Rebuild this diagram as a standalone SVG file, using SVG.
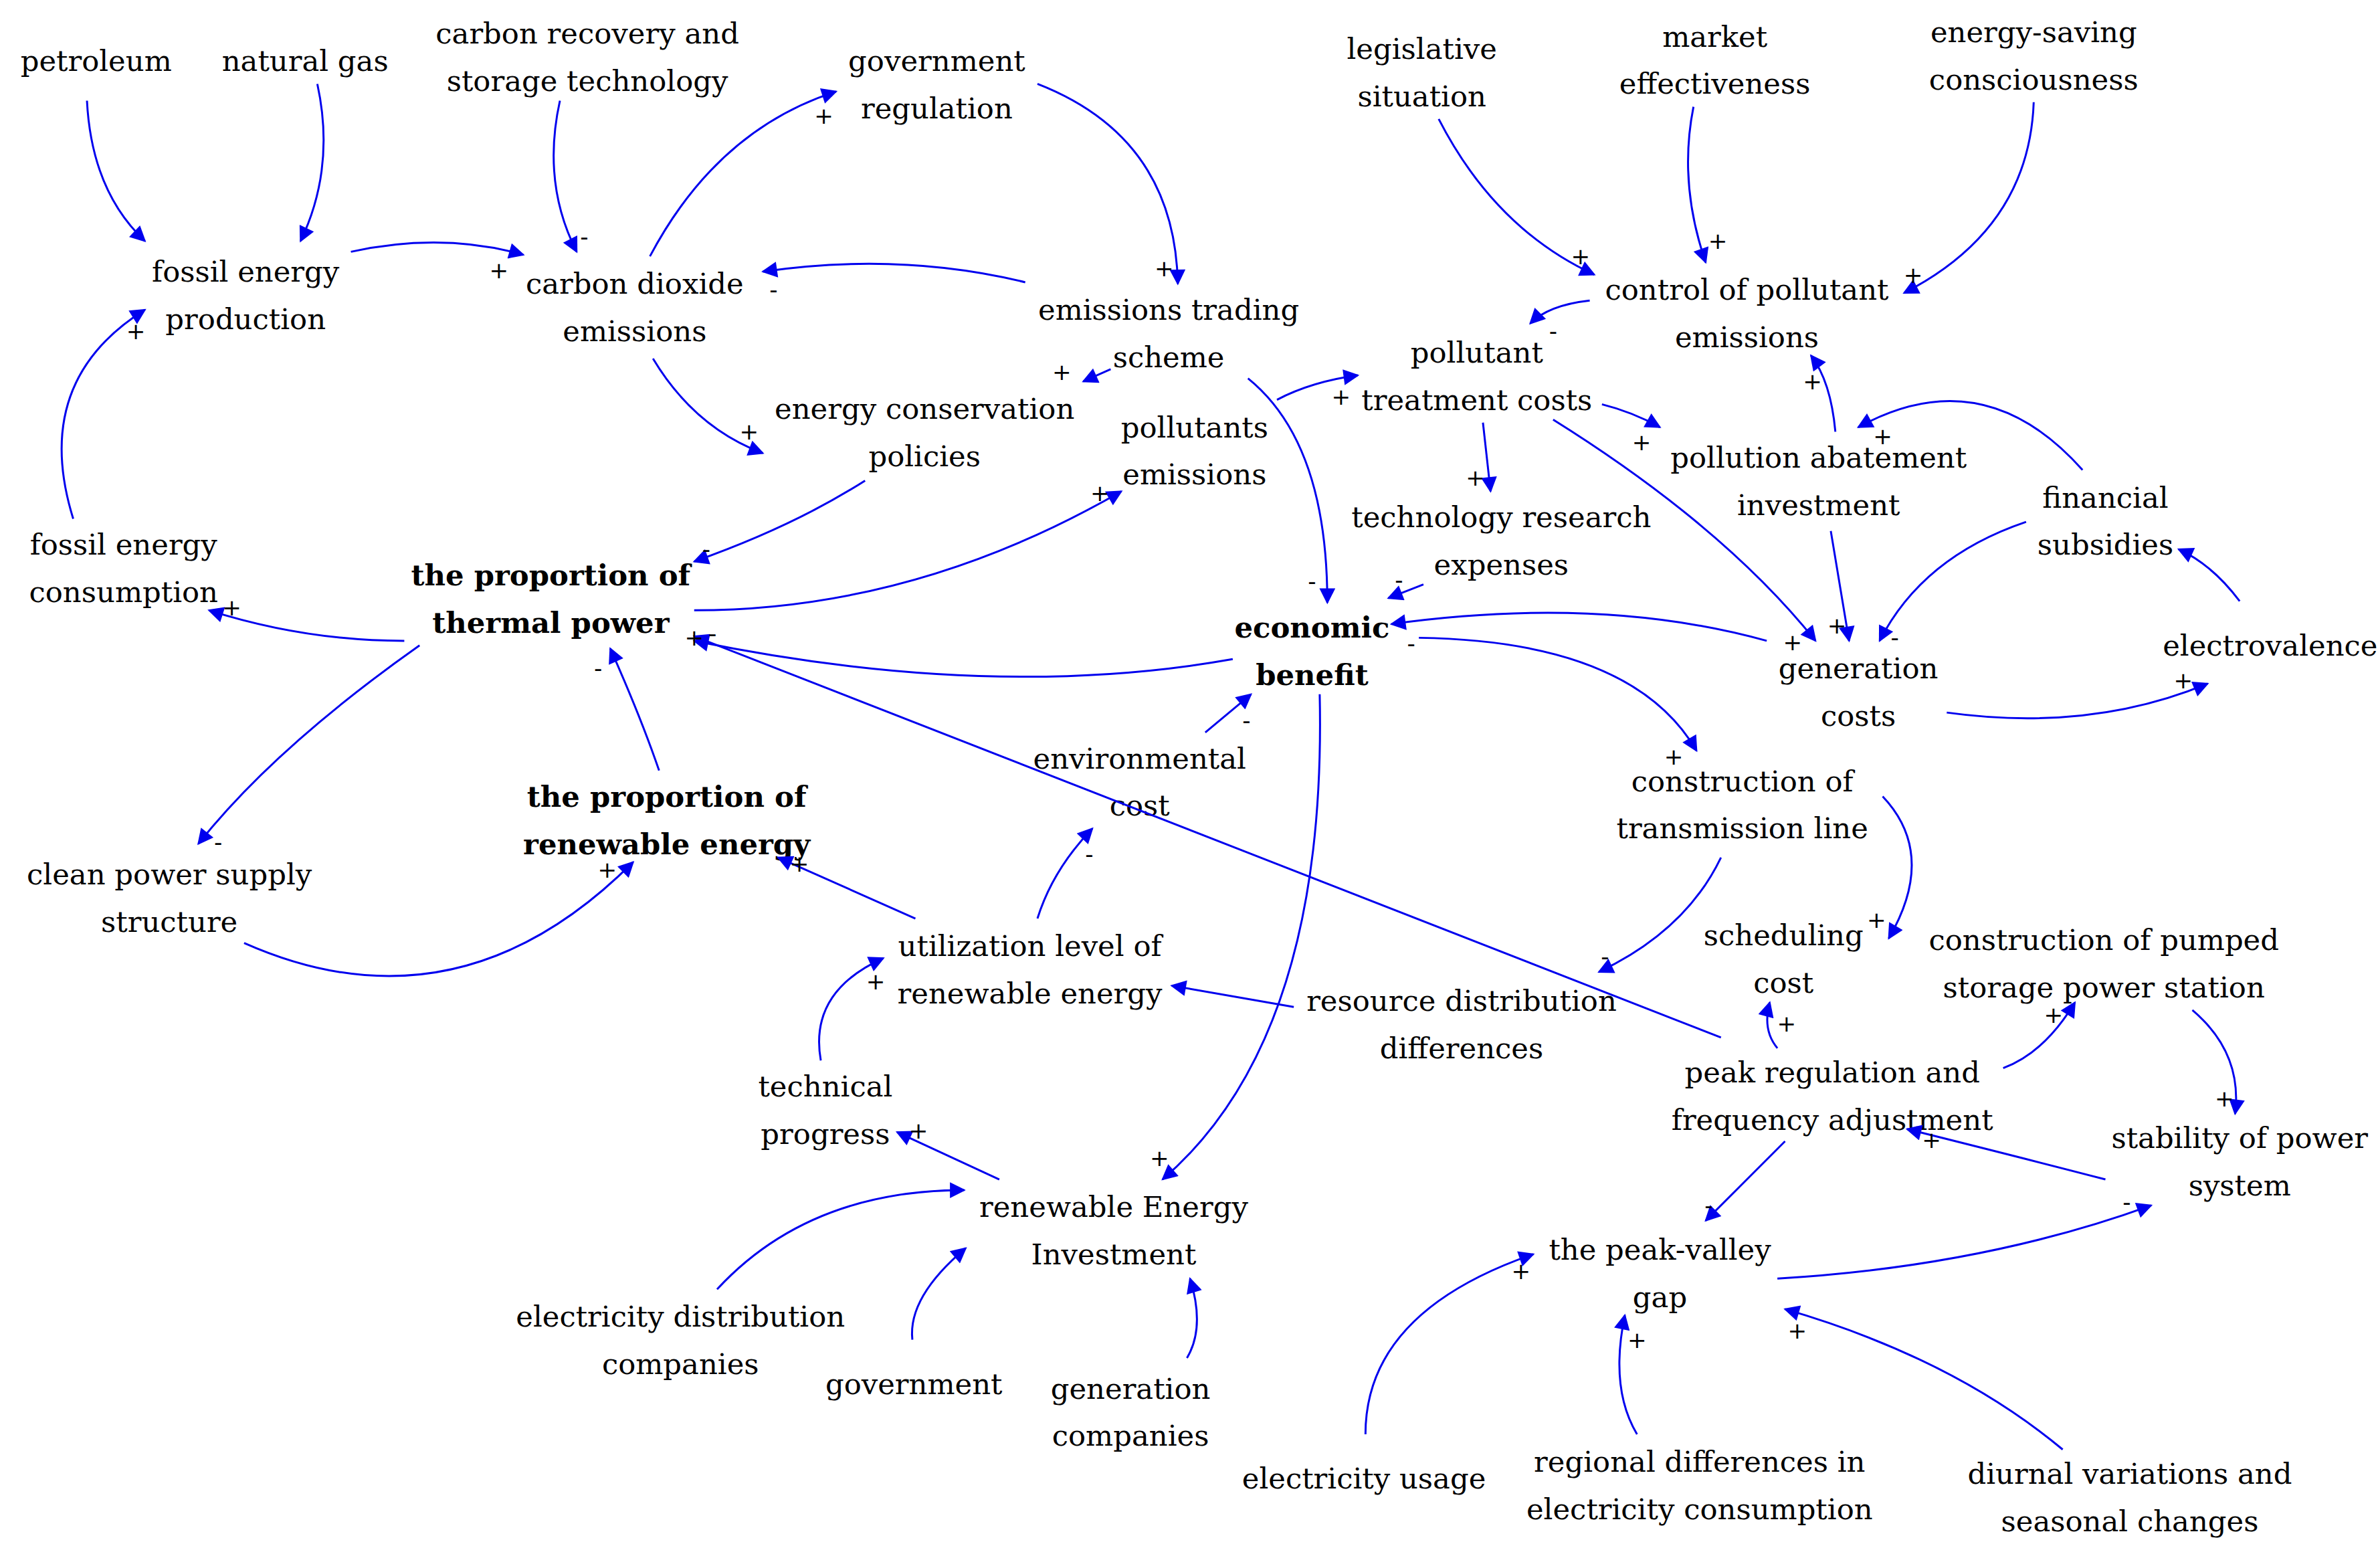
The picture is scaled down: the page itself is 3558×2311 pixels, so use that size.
<svg xmlns="http://www.w3.org/2000/svg" width="3558" height="2311" viewBox="0 0 3558 2311">
<style>
text{font-family:"DejaVu Serif","Liberation Serif",serif;font-size:19px;fill:#000;text-anchor:middle;dominant-baseline:central}
.b{font-weight:bold}
.s{font-family:"DejaVu Sans","Liberation Sans",sans-serif;font-size:15px}
.e path{fill:none;stroke:#0000ee;stroke-width:1.3;marker-end:url(#a)}
</style>
<defs><marker id="a" viewBox="0 0 10 10" refX="9" refY="5" markerWidth="9" markerHeight="8" orient="auto"><path d="M0,0L10,5L0,10z" fill="#0000ee"/></marker></defs>
<rect width="3558" height="2311" fill="#fff"/>
<g transform="scale(2.2808)">
<g id="n1"><text x="63" y="40">petroleum</text></g>
<g id="n2"><text x="200" y="40">natural gas</text></g>
<g id="n3"><text x="385" y="22">carbon recovery and</text><text x="385" y="53">storage technology</text></g>
<g id="n4"><text x="614" y="40">government</text><text x="614" y="71">regulation</text></g>
<g id="n5"><text x="932" y="32">legislative</text><text x="932" y="63">situation</text></g>
<g id="n6"><text x="1124" y="24">market</text><text x="1124" y="55">effectiveness</text></g>
<g id="n7"><text x="1333" y="21">energy-saving</text><text x="1333" y="52">consciousness</text></g>
<g id="n8"><text x="161" y="178">fossil energy</text><text x="161" y="209">production</text></g>
<g id="n9"><text x="416" y="186">carbon dioxide</text><text x="416" y="217">emissions</text></g>
<g id="n10"><text x="766" y="203">emissions trading</text><text x="766" y="234">scheme</text></g>
<g id="n11"><text x="1145" y="190">control of pollutant</text><text x="1145" y="221">emissions</text></g>
<g id="n12"><text x="968" y="231">pollutant</text><text x="968" y="262">treatment costs</text></g>
<g id="n13"><text x="606" y="268">energy conservation</text><text x="606" y="299">policies</text></g>
<g id="n14"><text x="783" y="280">pollutants</text><text x="783" y="311">emissions</text></g>
<g id="n15"><text x="1192" y="300">pollution abatement</text><text x="1192" y="331">investment</text></g>
<g id="n16"><text x="1380" y="326">financial</text><text x="1380" y="357">subsidies</text></g>
<g id="n17"><text x="984" y="339">technology research</text><text x="984" y="370">expenses</text></g>
<g id="n18"><text x="81" y="357">fossil energy</text><text x="81" y="388">consumption</text></g>
<g id="n19"><text class="b" x="361" y="377">the proportion of</text><text class="b" x="361" y="408">thermal power</text></g>
<g id="n20"><text class="b" x="860" y="411">economic</text><text class="b" x="860" y="442">benefit</text></g>
<g id="n21"><text x="1218" y="438">generation</text><text x="1218" y="469">costs</text></g>
<g id="n22"><text x="1488" y="423">electrovalence</text></g>
<g id="n23"><text x="747" y="497">environmental</text><text x="747" y="528">cost</text></g>
<g id="n24"><text x="1142" y="512">construction of</text><text x="1142" y="543">transmission line</text></g>
<g id="n25"><text class="b" x="437" y="522">the proportion of</text><text class="b" x="437" y="553">renewable energy</text></g>
<g id="n26"><text x="111" y="573">clean power supply</text><text x="111" y="604">structure</text></g>
<g id="n27"><text x="1169" y="613">scheduling</text><text x="1169" y="644">cost</text></g>
<g id="n28"><text x="1379" y="616">construction of pumped</text><text x="1379" y="647">storage power station</text></g>
<g id="n29"><text x="675" y="620">utilization level of</text><text x="675" y="651">renewable energy</text></g>
<g id="n30"><text x="958" y="656">resource distribution</text><text x="958" y="687">differences</text></g>
<g id="n31"><text x="1201" y="703">peak regulation and</text><text x="1201" y="734">frequency adjustment</text></g>
<g id="n32"><text x="541" y="712">technical</text><text x="541" y="743">progress</text></g>
<g id="n33"><text x="1468" y="746">stability of power</text><text x="1468" y="777">system</text></g>
<g id="n34"><text x="730" y="791">renewable Energy</text><text x="730" y="822">Investment</text></g>
<g id="n35"><text x="1088" y="819">the peak-valley</text><text x="1088" y="850">gap</text></g>
<g id="n36"><text x="446" y="863">electricity distribution</text><text x="446" y="894">companies</text></g>
<g id="n37"><text x="599" y="907">government</text></g>
<g id="n38"><text x="741" y="910">generation</text><text x="741" y="941">companies</text></g>
<g id="n39"><text x="894" y="969">electricity usage</text></g>
<g id="n40"><text x="1114" y="958">regional differences in</text><text x="1114" y="989">electricity consumption</text></g>
<g id="n41"><text x="1396" y="966">diurnal variations and</text><text x="1396" y="997">seasonal changes</text></g>
<g id="connectors" class="e">
<path d="M57,66 Q60,125 95,158"/>
<path d="M208,55 Q220,110 197,158"/>
<path d="M230,165 Q290,152 343,167"/>
<path d="M367,66 Q355,120 378,165"/>
<path d="M426,168 Q470,85 548,60"/>
<path d="M680,55 Q770,90 772,186"/>
<path d="M672,185 Q590,165 500,178"/>
<path d="M428,235 Q455,280 500,297"/>
<path d="M728,242 L710,250"/>
<path d="M818,248 Q870,290 870,395"/>
<path d="M837,262 Q860,250 890,246"/>
<path d="M567,315 Q520,345 455,368"/>
<path d="M455,400 Q600,400 735,322"/>
<path d="M265,420 Q200,420 137,400"/>
<path d="M48,340 Q20,250 95,203"/>
<path d="M943,78 Q980,150 1045,180"/>
<path d="M1110,70 Q1100,120 1118,172"/>
<path d="M1333,67 Q1330,150 1248,192"/>
<path d="M1042,197 Q1015,200 1003,212"/>
<path d="M1050,265 Q1070,270 1088,280"/>
<path d="M972,277 L977,322"/>
<path d="M1018,275 Q1130,345 1190,420"/>
<path d="M1203,283 Q1200,250 1187,233"/>
<path d="M1365,308 Q1300,235 1218,280"/>
<path d="M1328,342 Q1260,365 1232,420"/>
<path d="M1200,348 L1212,420"/>
<path d="M1468,394 Q1450,370 1428,360"/>
<path d="M1276,467 Q1370,480 1447,448"/>
<path d="M933,383 L910,392"/>
<path d="M1158,420 Q1050,390 912,409"/>
<path d="M808,432 Q650,460 455,420"/>
<path d="M930,418 Q1070,420 1112,492"/>
<path d="M865,455 Q870,680 762,773"/>
<path d="M790,480 L820,455"/>
<path d="M432,505 Q420,470 400,425"/>
<path d="M275,423 Q180,490 130,553"/>
<path d="M160,618 Q300,680 415,565"/>
<path d="M600,602 L510,562"/>
<path d="M680,602 Q690,570 716,543"/>
<path d="M538,695 Q530,650 579,628"/>
<path d="M848,660 L768,646"/>
<path d="M1128,562 Q1105,610 1048,637"/>
<path d="M1234,522 Q1270,560 1238,615"/>
<path d="M1165,687 Q1155,675 1160,657"/>
<path d="M1128,680 L455,417"/>
<path d="M1313,700 Q1340,690 1360,657"/>
<path d="M1437,662 Q1470,690 1465,730"/>
<path d="M1380,773 Q1330,760 1250,740"/>
<path d="M1170,748 L1118,800"/>
<path d="M1165,838 Q1300,830 1410,790"/>
<path d="M655,773 L588,742"/>
<path d="M470,845 Q530,780 632,780"/>
<path d="M598,878 Q595,850 633,818"/>
<path d="M778,890 Q790,870 780,838"/>
<path d="M895,940 Q895,860 1005,822"/>
<path d="M1073,940 Q1055,910 1065,862"/>
<path d="M1352,950 Q1280,890 1170,858"/>
</g>
<g id="signs" class="s">
<text class="s" x="327" y="177">+</text><text class="s" x="383" y="155">-</text><text class="s" x="540" y="76">+</text>
<text class="s" x="763" y="176">+</text><text class="s" x="507" y="190">-</text><text class="s" x="491" y="283">+</text>
<text class="s" x="696" y="244">+</text><text class="s" x="860" y="381">-</text><text class="s" x="879" y="260">+</text>
<text class="s" x="463" y="360">-</text><text class="s" x="721" y="323">+</text><text class="s" x="152" y="398">+</text>
<text class="s" x="89" y="217">+</text><text class="s" x="1036" y="168">+</text><text class="s" x="1126" y="158">+</text>
<text class="s" x="1254" y="180">+</text><text class="s" x="1018" y="217">-</text><text class="s" x="1076" y="290">+</text>
<text class="s" x="967" y="313">+</text><text class="s" x="1175" y="421">+</text><text class="s" x="1188" y="250">+</text>
<text class="s" x="1234" y="286">+</text><text class="s" x="1242" y="418">-</text><text class="s" x="1204" y="410">+</text>
<text class="s" x="1431" y="446">+</text><text class="s" x="917" y="380">-</text><text class="s" x="925" y="422">-</text>
<text class="s" x="455" y="418">+</text><text class="s" x="467" y="415">-</text><text class="s" x="1097" y="496">+</text>
<text class="s" x="760" y="759">+</text><text class="s" x="817" y="472">-</text><text class="s" x="392" y="438">-</text>
<text class="s" x="143" y="552">-</text><text class="s" x="398" y="570">+</text><text class="s" x="524" y="566">+</text>
<text class="s" x="714" y="560">-</text><text class="s" x="574" y="643">+</text><text class="s" x="1052" y="627">-</text>
<text class="s" x="1230" y="603">+</text><text class="s" x="1171" y="671">+</text><text class="s" x="1346" y="665">+</text>
<text class="s" x="1458" y="720">+</text><text class="s" x="1266" y="747">+</text><text class="s" x="1120" y="790">-</text>
<text class="s" x="1394" y="788">-</text><text class="s" x="602" y="741">+</text><text class="s" x="997" y="833">+</text>
<text class="s" x="1073" y="878">+</text><text class="s" x="1178" y="872">+</text>
</g>
</g>
</svg>
